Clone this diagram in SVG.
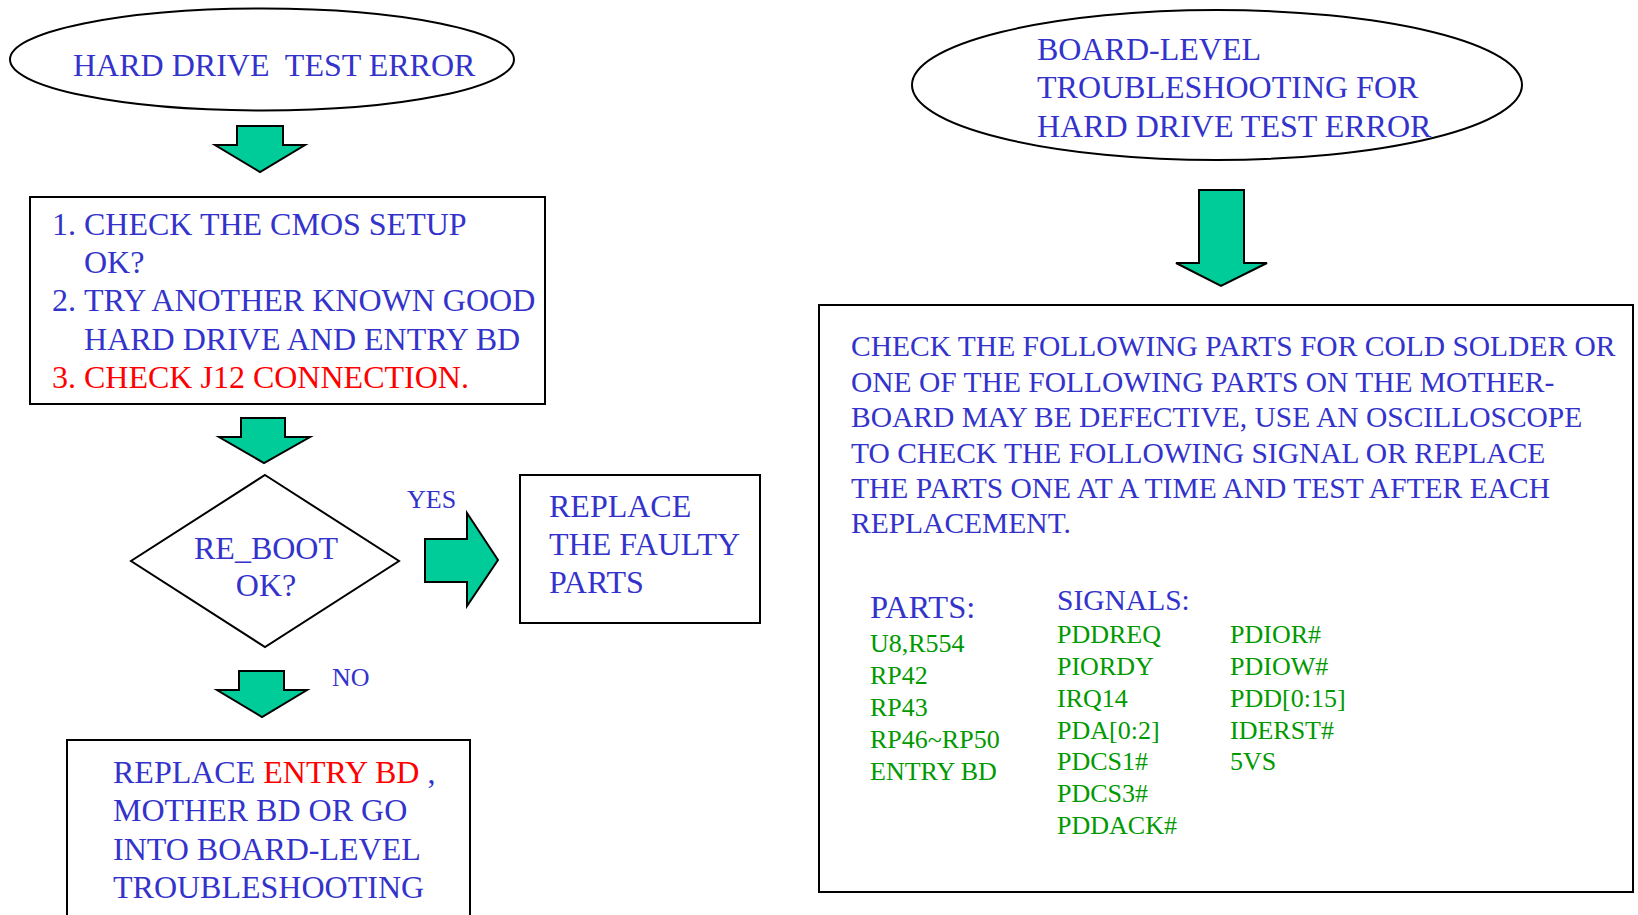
<svg xmlns="http://www.w3.org/2000/svg" width="1638" height="915" viewBox="0 0 1638 915">
<style>
text{font-family:"Liberation Serif","Times New Roman",serif;}
.b{fill:#3333CC;}
.r{fill:#FF0000;}
.g{fill:#009900;font-size:26px;}
.t32{font-size:32px;}
.t29{font-size:29.5px;}
.lbl{font-size:26px;fill:#3333CC;}
.shape{fill:#FFFFFF;stroke:#000000;stroke-width:2;}
.arrow{fill:#00CC99;stroke:#000000;stroke-width:2;stroke-linejoin:miter;}
</style>
<rect width="1638" height="915" fill="#FFFFFF"/>

<g id="start">
<ellipse class="shape" cx="262" cy="59.5" rx="252" ry="51"/>
<text class="b t32" x="73" y="76" xml:space="preserve">HARD DRIVE  TEST ERROR</text>
</g>

<g id="checks">
<rect class="shape" x="30" y="197" width="515" height="207"/>
<text class="b t32"><tspan x="52" y="235">1.</tspan><tspan x="84" y="235">CHECK THE CMOS SETUP</tspan></text>
<text class="b t32" x="84" y="273">OK?</text>
<text class="b t32"><tspan x="52" y="311">2.</tspan><tspan x="84" y="311">TRY ANOTHER KNOWN GOOD</tspan></text>
<text class="b t32" x="84" y="350">HARD DRIVE AND ENTRY BD</text>
<text class="r t32"><tspan x="52" y="388">3.</tspan><tspan x="84" y="388">CHECK J12 CONNECTION.</tspan></text>
</g>

<g id="reboot">
<polygon class="shape" points="265,475 399,561 265,647 131,561"/>
<text class="b t32" x="266" y="559" text-anchor="middle">RE_BOOT</text>
<text class="b t32" x="266" y="596" text-anchor="middle">OK?</text>
</g>

<g id="replace-parts">
<rect class="shape" x="520" y="475" width="240" height="148"/>
<text class="b t32" x="549" y="517">REPLACE</text>
<text class="b t32" x="549" y="555">THE FAULTY</text>
<text class="b t32" x="549" y="593">PARTS</text>
</g>

<g id="replace-boards">
<rect class="shape" x="67" y="740" width="403" height="200"/>
<text class="t32" x="113" y="783"><tspan class="b">REPLACE </tspan><tspan class="r">ENTRY BD</tspan><tspan class="b"> ,</tspan></text>
<text class="b t32" x="113" y="821">MOTHER BD OR GO</text>
<text class="b t32" x="113" y="860">INTO BOARD-LEVEL</text>
<text class="b t32" x="113" y="898">TROUBLESHOOTING</text>
</g>

<g id="board-level">
<ellipse class="shape" cx="1217" cy="85" rx="305" ry="75"/>
<text class="b t32" x="1037" y="60">BOARD-LEVEL</text>
<text class="b t32" x="1037" y="98">TROUBLESHOOTING FOR</text>
<text class="b t32" x="1037" y="137">HARD DRIVE TEST ERROR</text>
</g>

<g id="board-checks">
<rect class="shape" x="819" y="305" width="814" height="587"/>
<text class="b t29" x="851" y="356">CHECK THE FOLLOWING PARTS FOR COLD SOLDER OR</text>
<text class="b t29" x="851" y="392">ONE OF THE FOLLOWING PARTS ON THE MOTHER-</text>
<text class="b t29" x="851" y="427">BOARD MAY BE DEFECTIVE, USE AN OSCILLOSCOPE</text>
<text class="b t29" x="851" y="463">TO CHECK THE FOLLOWING SIGNAL OR REPLACE</text>
<text class="b t29" x="851" y="498">THE PARTS ONE AT A TIME AND TEST AFTER EACH</text>
<text class="b t29" x="851" y="533">REPLACEMENT.</text>
<text class="b" style="font-size:32.5px" x="870" y="618">PARTS:</text>
<text class="b t29" x="1057" y="610">SIGNALS:</text>
<text class="g" x="870" y="652">U8,R554</text>
<text class="g" x="870" y="684">RP42</text>
<text class="g" x="870" y="716">RP43</text>
<text class="g" x="870" y="748">RP46~RP50</text>
<text class="g" x="870" y="780">ENTRY BD</text>
<text class="g" x="1057" y="643">PDDREQ</text>
<text class="g" x="1057" y="675">PIORDY</text>
<text class="g" x="1057" y="707">IRQ14</text>
<text class="g" x="1057" y="739">PDA[0:2]</text>
<text class="g" x="1057" y="770">PDCS1#</text>
<text class="g" x="1057" y="802">PDCS3#</text>
<text class="g" x="1057" y="834">PDDACK#</text>
<text class="g" x="1230" y="643">PDIOR#</text>
<text class="g" x="1230" y="675">PDIOW#</text>
<text class="g" x="1230" y="707">PDD[0:15]</text>
<text class="g" x="1230" y="739">IDERST#</text>
<text class="g" x="1230" y="770">5VS</text>
</g>

<g id="connectors">
<path class="arrow" d="M237,126 H283 V145 H305 L260,172 L215,145 H237 Z"/>
<path class="arrow" d="M241,418 H285 V437 H310 L264,463 L219,437 H241 Z"/>
<path class="arrow" d="M425,539 H467 V513 L498,560 L467,606 V582 H425 Z"/>
<text class="lbl" x="407" y="508">YES</text>
<path class="arrow" d="M239,671 H284 V690 H307 L262,717 L217,690 H239 Z"/>
<text class="lbl" x="332" y="686">NO</text>
<path class="arrow" d="M1199,190 H1244 V263 H1267 L1221,286 L1176,263 H1199 Z"/>
</g>
</svg>
